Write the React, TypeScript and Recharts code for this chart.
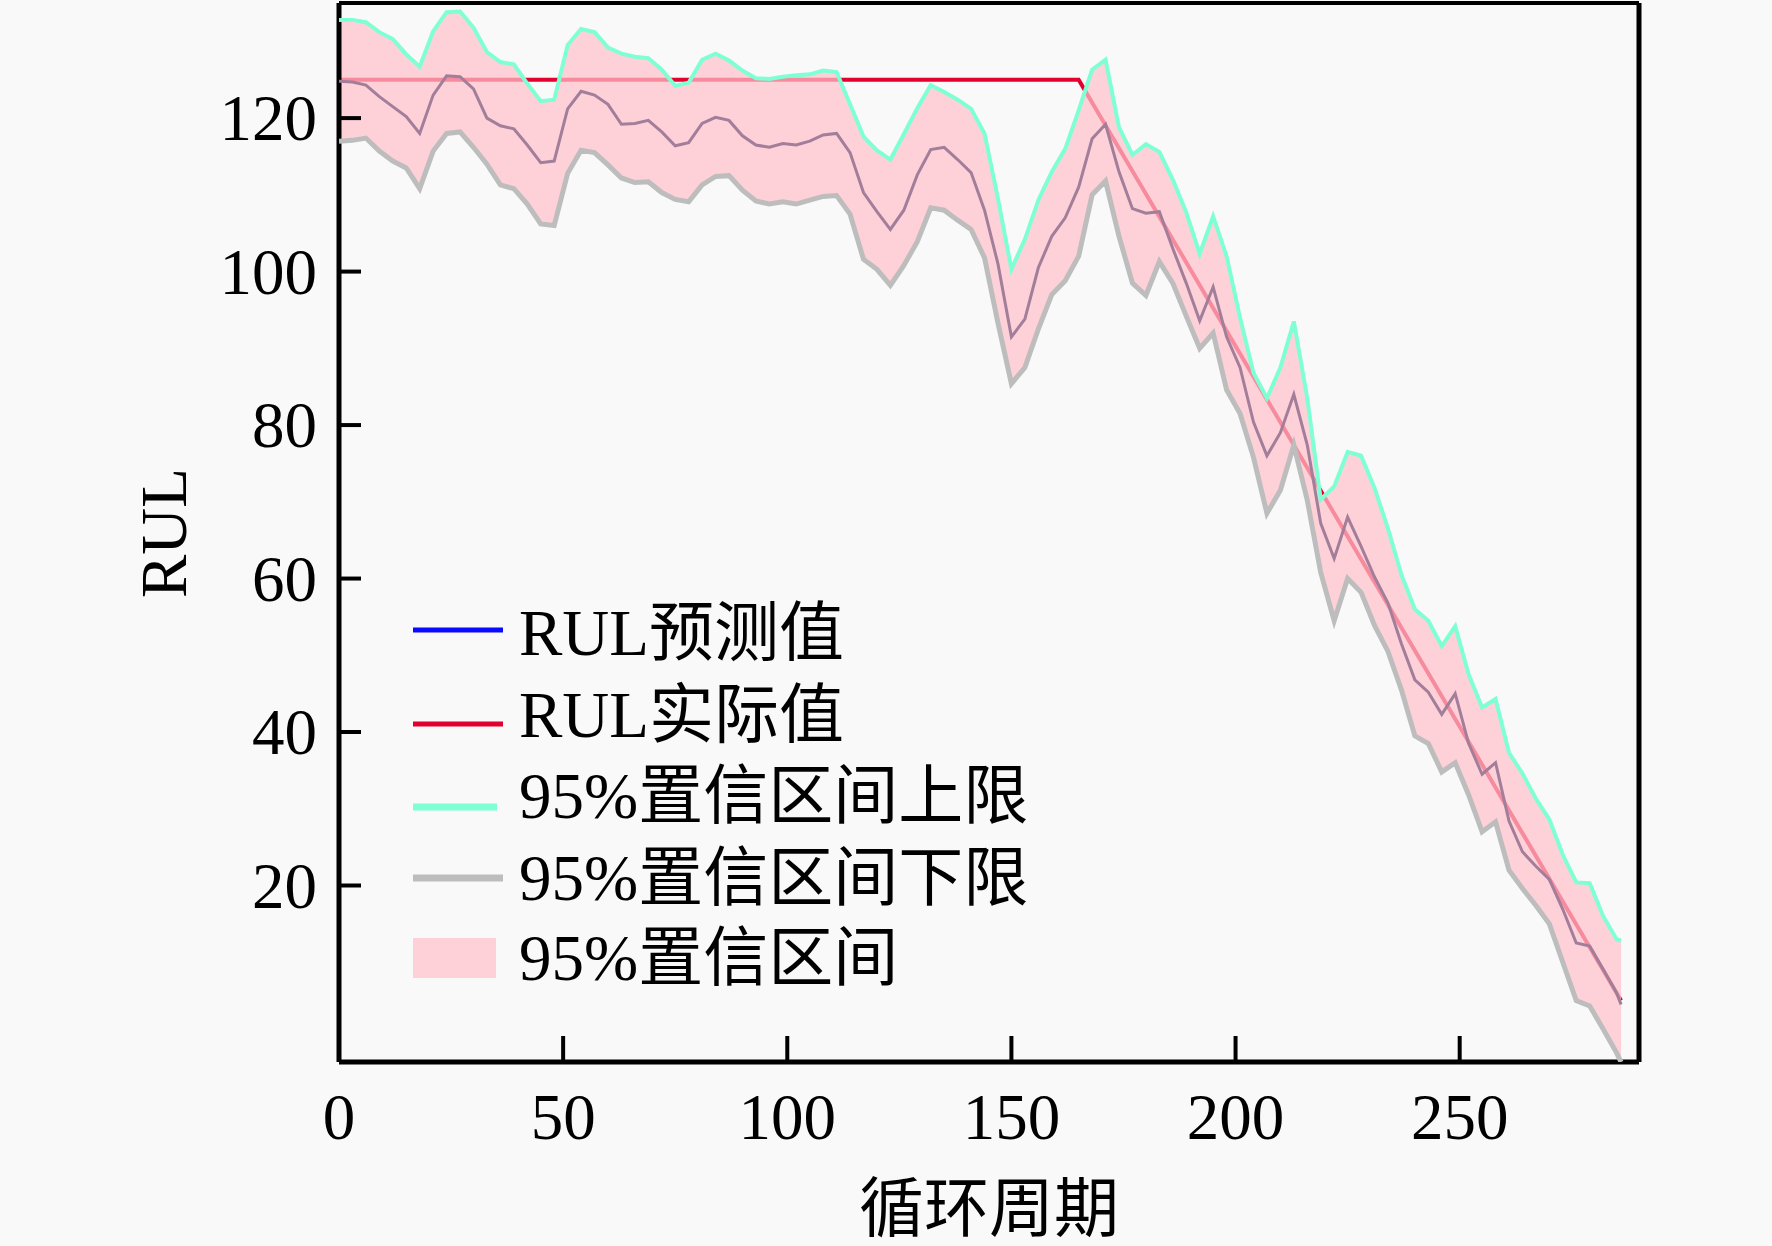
import React from 'react';
import { ComposedChart, Line, Area, XAxis, YAxis, ReferenceLine } from 'recharts';

const FONT = "'Liberation Serif', 'Times New Roman', 'Noto Sans CJK SC', serif";

const cycles = [
  0, 3, 6, 9, 12, 15, 18, 21, 24, 27,
  30, 33, 36, 39, 42, 45, 48, 51, 54, 57,
  60, 63, 66, 69, 72, 75, 78, 81, 84, 87,
  90, 93, 96, 99, 102, 105, 108, 111, 114, 117,
  120, 123, 126, 129, 132, 135, 138, 141, 144, 147,
  150, 153, 156, 159, 162, 165, 168, 171, 174, 177,
  180, 183, 186, 189, 192, 195, 198, 201, 204, 207,
  210, 213, 216, 219, 222, 225, 228, 231, 234, 237,
  240, 243, 246, 249, 252, 255, 258, 261, 264, 267,
  270, 273, 276, 279, 282, 285, 286,
];

const predictedRul = [
  124.8, 124.7, 124.3, 122.8, 121.5, 120.2, 118.0, 123.0, 125.5, 125.4,
  123.8, 120.0, 119.0, 118.6, 116.5, 114.2, 114.4, 121.2, 123.5, 123.0,
  121.8, 119.2, 119.3, 119.7, 118.2, 116.4, 116.8, 119.3, 120.1, 119.7,
  117.7, 116.5, 116.2, 116.7, 116.5, 117.0, 117.8, 118.0, 115.5, 110.3,
  107.8, 105.5, 108.0, 112.6, 115.9, 116.2, 114.6, 112.9, 108.0, 101.0,
  91.5, 93.8, 100.5, 104.6, 107.0, 111.0, 117.3, 119.2, 113.0, 108.2,
  107.6, 107.8, 103.0, 98.5, 93.6, 98.0, 91.5, 87.5, 80.4, 76.0,
  79.0, 84.0, 77.4, 67.2, 62.6, 68.0, 64.2, 60.2, 56.8, 51.5,
  46.8, 45.2, 42.3, 45.0, 38.5, 34.5, 36.0, 28.4, 24.4, 22.5,
  20.8, 16.9, 12.5, 12.1, 9.1, 6.0, 4.5,
];

const upperBound = [
  132.8, 132.8, 132.5, 131.2, 130.3, 128.3, 126.7, 131.3, 133.8, 133.9,
  131.8, 128.6, 127.3, 127.0, 124.5, 122.2, 122.4, 129.5, 131.6, 131.2,
  129.2, 128.4, 128.0, 127.8, 126.3, 124.2, 124.6, 127.6, 128.4, 127.5,
  126.2, 125.2, 125.1, 125.4, 125.6, 125.7, 126.2, 126.0, 121.8, 117.6,
  115.8, 114.6, 117.9, 121.3, 124.3, 123.4, 122.4, 121.2, 118.0, 109.5,
  100.3, 104.2, 109.3, 113.0, 116.0, 121.0, 126.3, 127.6, 118.8, 115.2,
  116.6, 115.6, 112.0, 107.7, 102.3, 107.2, 102.0, 94.0, 86.8, 83.5,
  87.5, 93.5, 83.5, 70.3, 72.0, 76.5, 76.0, 71.8, 66.5, 60.5,
  56.0, 54.5, 51.2, 53.8, 47.5, 43.2, 44.3, 37.3, 34.6, 31.3,
  28.6, 24.0, 20.4, 20.3, 16.0, 13.0, 12.8,
];

const lowerBound = [
  117.0, 117.1, 117.4, 115.7, 114.4, 113.5, 110.8, 115.7, 118.0, 118.2,
  116.2, 114.0, 111.3, 110.8, 108.8, 106.2, 106.0, 112.8, 115.8, 115.5,
  113.9, 112.2, 111.6, 111.7, 110.3, 109.4, 109.1, 111.3, 112.4, 112.5,
  110.6, 109.2, 108.8, 109.1, 108.8, 109.3, 109.8, 109.9, 107.5, 101.6,
  100.3, 98.2, 100.8, 103.9, 108.3, 108.0, 106.7, 105.5, 101.8, 93.3,
  85.4, 87.5, 92.5, 97.0, 98.8, 102.0, 110.0, 111.8, 104.6, 98.5,
  96.9, 101.3, 98.5, 94.2, 90.0, 92.0, 84.6, 81.5, 75.8, 68.5,
  71.5, 77.4, 70.2, 60.8, 54.5, 60.0, 58.2, 53.9, 50.5, 45.5,
  39.5, 38.5, 34.8, 36.0, 31.8, 27.0, 28.3, 22.0, 19.6, 17.4,
  15.0, 10.0, 5.0, 4.3, 1.3, -1.8, -3.0,
];

// True RUL: piecewise linear, given at its break points
const actualBreakCycles = [0, 165, 286];
const actualBreakValues = [125, 125, 5];

const xTicks = [0, 50, 100, 150, 200, 250];
const yTicks = [20, 40, 60, 80, 100, 120];
const xDomain = [0, 290];
const yDomain = [-3, 135];

const legendLabels = ['RUL预测值', 'RUL实际值', '95%置信区间上限', '95%置信区间下限', '95%置信区间'];
const xAxisTitle = '循环周期';
const yAxisTitle = 'RUL';

const COLORS = {
  predictedLegend: '#0a0aff',
  predicted: '#a27e9a',
  actual: '#e2002e',
  upper: '#7fffd4',
  lower: '#bdbdbd',
  band: '#ffc0cb',
};

const tableData = cycles.map((c, i) => {
  const k = actualBreakCycles.indexOf(c);
  return {
    cycle: c,
    predicted: predictedRul[i],
    upper: upperBound[i],
    lower: lowerBound[i],
    band: [lowerBound[i], upperBound[i]],
    actual: k >= 0 ? actualBreakValues[k] : null,
  };
});

const XTick = (props: any) => {
  const { x, y, payload } = props;
  return (
    <g>
      <line x1={x} x2={x} y1={y} y2={y - 26} stroke="#000" strokeWidth={4} />
      <text x={x} y={y + 77} textAnchor="middle" fontSize={65} fontFamily={FONT} fill="#000">
        {payload.value}
      </text>
    </g>
  );
};

const YTick = (props: any) => {
  const { x, y, payload } = props;
  return (
    <g>
      <line x1={x} x2={x + 22} y1={y} y2={y} stroke="#000" strokeWidth={4} />
      <text x={x - 22} y={y + 22} textAnchor="end" fontSize={65} fontFamily={FONT} fill="#000">
        {payload.value}
      </text>
    </g>
  );
};

const legendBaselines = [655, 737, 818, 900, 980];
const legendLineY = [630, 724, 807, 878];

export default function App() {
  return (
    <div style={{ position: 'fixed', left: 0, top: 0, width: 1772, height: 1246, background: '#f9f9f9' }}>
      <ComposedChart
        width={1772}
        height={1246}
        data={tableData}
        margin={{ top: 3, right: 133, bottom: 0, left: 0 }}
      >
        <XAxis
          dataKey="cycle"
          type="number"
          domain={xDomain}
          ticks={xTicks}
          height={184}
          tickSize={0}
          tickMargin={0}
          tickLine={false}
          tick={<XTick />}
          axisLine={{ stroke: '#000', strokeWidth: 5 }}
          allowDataOverflow
        />
        <YAxis
          type="number"
          domain={yDomain}
          ticks={yTicks}
          width={339}
          tickSize={0}
          tickMargin={0}
          tickLine={false}
          tick={<YTick />}
          axisLine={{ stroke: '#000', strokeWidth: 5 }}
          allowDataOverflow
        />
        <Line
          dataKey="actual"
          type="linear"
          stroke={COLORS.actual}
          strokeWidth={4}
          dot={false}
          connectNulls
          isAnimationActive={false}
          zIndex={420}
        />
        <Area
          dataKey="band"
          type="linear"
          fill={COLORS.band}
          fillOpacity={0.72}
          stroke="none"
          isAnimationActive={false}
          zIndex={450}
        />
        <Line dataKey="lower" type="linear" stroke={COLORS.lower} strokeWidth={5} dot={false} isAnimationActive={false} zIndex={500} />
        <Line dataKey="upper" type="linear" stroke={COLORS.upper} strokeWidth={4} dot={false} isAnimationActive={false} zIndex={510} />
        <Line dataKey="predicted" type="linear" stroke={COLORS.predicted} strokeWidth={3} dot={false} isAnimationActive={false} zIndex={520} />
        <ReferenceLine y={yDomain[1]} stroke="#000" strokeWidth={4} />
        <ReferenceLine x={xDomain[1]} stroke="#000" strokeWidth={5} />
      </ComposedChart>
      <svg
        width={1772}
        height={1246}
        style={{ position: 'absolute', left: 0, top: 0, pointerEvents: 'none' }}
      >
        <text
          x={164}
          y={533}
          dy={22}
          transform="rotate(-90 164 533)"
          textAnchor="middle"
          fontSize={65}
          fontFamily={FONT}
          fill="#000"
        >
          {yAxisTitle}
        </text>
        <text x={989} y={1231} textAnchor="middle" fontSize={65} fontFamily={FONT} fill="#000">
          {xAxisTitle}
        </text>
        <line x1={413} x2={503} y1={legendLineY[0]} y2={legendLineY[0]} stroke={COLORS.predictedLegend} strokeWidth={5} />
        <line x1={413} x2={503} y1={legendLineY[1]} y2={legendLineY[1]} stroke={COLORS.actual} strokeWidth={5} />
        <line x1={413} x2={497} y1={legendLineY[2]} y2={legendLineY[2]} stroke={COLORS.upper} strokeWidth={7} />
        <line x1={413} x2={503} y1={legendLineY[3]} y2={legendLineY[3]} stroke={COLORS.lower} strokeWidth={7} />
        <rect x={413} y={938} width={83} height={40} fill={COLORS.band} fillOpacity={0.72} />
        {legendLabels.map((label, i) => (
          <text key={label} x={519} y={legendBaselines[i]} fontSize={65} fontFamily={FONT} fill="#000">
            {label}
          </text>
        ))}
      </svg>
    </div>
  );
}
